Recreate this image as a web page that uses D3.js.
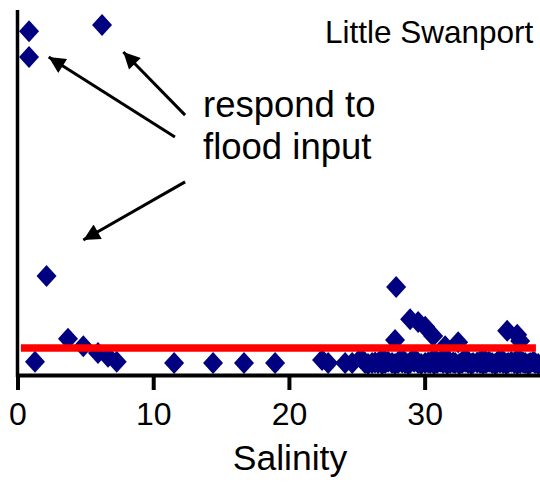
<!DOCTYPE html>
<html>
<head>
<meta charset="utf-8">
<script src="https://cdn.jsdelivr.net/npm/d3@7"></script>
<style>
  html, body { margin: 0; padding: 0; background: #fff; }
  svg { display: block; font-family: "Liberation Sans", Arial, sans-serif; }
</style>
</head>
<body>
<svg id="chart" width="540" height="482"></svg>
<script>
// ---- data (salinity vs. arbitrary concentration units) ----
const salinity = [
  0.85, 0.85, 6.23, 2.14, 1.29, 3.72, 4.85, 5.93, 6.67, 7.31,
  11.54, 14.41, 16.69, 18.98,
  22.44, 22.89, 24.14, 24.66, 25.61, 26.13, 26.57, 27.09, 27.60, 28.05,
  28.56, 28.93, 29.52, 30.04, 30.41, 30.92, 31.36, 31.88, 32.25, 32.76,
  33.20, 33.57, 34.09, 34.53, 34.97, 35.34, 35.78, 36.15, 36.60, 37.04,
  37.41, 37.78, 38.14,
  27.90, 28.93, 29.52, 30.04, 30.63, 31.51, 32.47, 27.82, 36.08, 36.82, 37.04,
  25.3, 26.9, 28.3, 29.2, 30.7, 31.6, 33.0, 34.3, 35.6, 36.9,
  25.83, 26.35, 26.87, 27.31, 27.82, 28.34, 28.79, 29.23, 29.74, 30.26,
  30.70, 31.14, 31.66, 32.10, 32.55, 32.99, 33.43, 33.87, 34.31, 34.75,
  35.19, 35.56, 36.01, 36.38, 36.82, 37.26, 37.63, 38.00, 38.37
];
const concentration = [
  94.2, 87.1, 95.9, 27.1, 3.6, 9.9, 7.9, 6.0, 5.0, 3.6,
  3.3, 3.3, 3.3, 3.3,
  4.1, 3.3, 3.3, 3.3, 3.3, 3.3, 3.3, 3.3, 3.3, 3.3,
  3.3, 3.3, 3.3, 3.3, 3.3, 3.3, 3.3, 3.3, 3.3, 3.3,
  3.3, 3.3, 3.3, 3.3, 3.3, 3.3, 3.3, 3.3, 3.3, 3.3,
  3.3, 3.3, 3.3,
  24.1, 15.3, 14.5, 13.2, 10.7, 7.9, 9.0, 9.6, 12.1, 11.0, 9.3,
  4.6, 4.6, 4.6, 4.6, 4.6, 4.6, 4.6, 4.6, 4.6, 4.6,
  3.0, 3.4, 3.0, 3.6, 3.0, 3.4, 3.0, 3.6, 3.0, 3.4,
  3.0, 3.6, 3.0, 3.4, 3.0, 3.6, 3.0, 3.4, 3.0, 3.6,
  3.0, 3.4, 3.0, 3.6, 3.0, 3.4, 3.0, 3.6, 3.0
];
const meanLine = [ {s: 0.25, v: 7.4}, {s: 38.2, v: 7.4} ];
const xTicks = [0, 10, 20, 30];
const title = "Little Swanport";
const annotation = ["respond to", "flood input"];
const xLabel = "Salinity";

// arrows: from label area (tail) to points (head), in data units
const arrows = [
  {x1: 11.6, y1: 65.2, x2: 2.3, y2: 87.1},
  {x1: 12.35, y1: 71.2, x2: 7.8, y2: 88.5},
  {x1: 12.35, y1: 52.9, x2: 4.85, y2: 37.0}
];

// ---- layout ----
const svg = d3.select("#chart");
const x = d3.scaleLinear().domain([0, 38.5]).range([17.5, 540]);
const y = d3.scaleLinear().domain([0, 100]).range([375, 10]);

svg.append("defs").append("marker")
  .attr("id", "head").attr("viewBox", "0 0 10 10")
  .attr("refX", 10).attr("refY", 5)
  .attr("markerWidth", 6.5).attr("markerHeight", 5.5)
  .attr("markerUnits", "strokeWidth")
  .attr("orient", "auto")
  .append("path").attr("d", "M0,0 L10,5 L0,10 Z").attr("fill", "#000");

// diamond symbol
const diamond = {
  draw(ctx, size) {
    const w = 10, h = 11;
    ctx.moveTo(0, -h); ctx.lineTo(w, 0); ctx.lineTo(0, h); ctx.lineTo(-w, 0); ctx.closePath();
  }
};
const pts = salinity.map((s, i) => ({s, v: concentration[i]}));
svg.append("g").selectAll("path").data(pts).join("path")
  .attr("transform", d => `translate(${x(d.s)},${y(d.v)})`)
  .attr("d", d3.symbol().type(diamond))
  .attr("fill", "#000080");

// red line
svg.append("path").datum(meanLine)
  .attr("d", d3.line().x(d => x(d.s)).y(d => y(d.v)))
  .attr("stroke", "#ff0000").attr("stroke-width", 7.5).attr("fill", "none");

// axes
const xAxis = svg.append("g").attr("transform", `translate(0,${y(0)})`)
  .call(d3.axisBottom(x).tickValues(xTicks).tickSize(15).tickPadding(12).tickSizeOuter(0));
xAxis.select(".domain").attr("stroke", "#000").attr("stroke-width", 4);
xAxis.selectAll(".tick line").attr("stroke", "#000").attr("stroke-width", 4);
xAxis.selectAll(".tick text").attr("font-size", 32).attr("fill", "#000")
  .attr("font-family", "Liberation Sans, Arial, sans-serif");

const yAxis = svg.append("g").attr("transform", `translate(${x(0)},0)`)
  .call(d3.axisLeft(y).tickValues([]).tickSizeOuter(0));
yAxis.select(".domain").attr("stroke", "#000").attr("stroke-width", 3.5)
  .attr("d", `M0,${y(100)}V${y(0) + 2}`);

// labels
svg.append("text").attr("x", 290).attr("y", 470).attr("text-anchor", "middle")
  .attr("font-size", 35.5).text(xLabel);
svg.append("text").attr("x", 325).attr("y", 43).attr("font-size", 31.5).text(title);
svg.append("g").selectAll("text").data(annotation).join("text")
  .attr("x", 203).attr("y", (d, i) => 117 + i * 42)
  .attr("font-size", 36.5).text(d => d);

// arrows
svg.append("g").selectAll("line").data(arrows).join("line")
  .attr("x1", d => x(d.x1)).attr("y1", d => y(d.y1))
  .attr("x2", d => x(d.x2)).attr("y2", d => y(d.y2))
  .attr("stroke", "#000").attr("stroke-width", 3)
  .attr("marker-end", "url(#head)");
</script>
</body>
</html>
